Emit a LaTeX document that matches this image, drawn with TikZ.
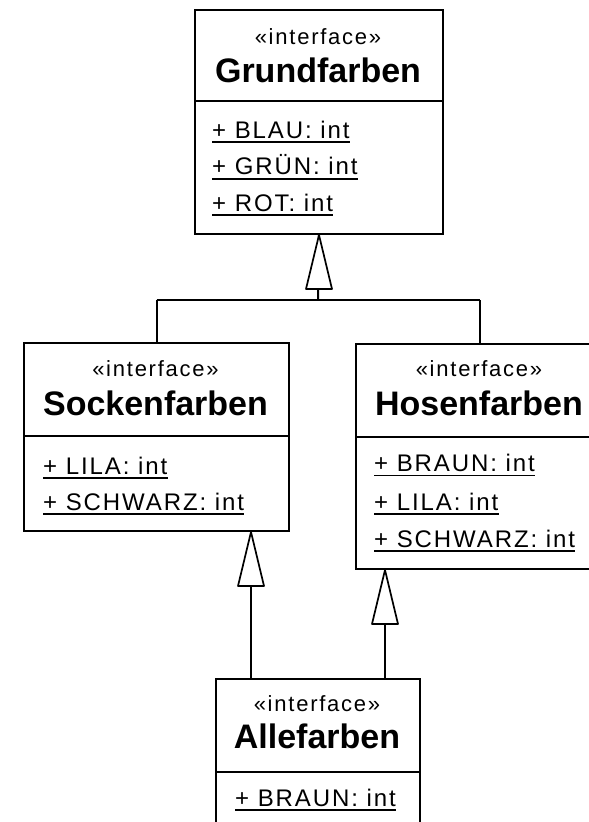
\documentclass[tikz,border=0pt]{standalone}
\usepackage{fontspec}
\setmainfont{Liberation Sans}
\newfontfamily\spacedfont[LetterSpace=8]{Liberation Sans}

\tikzset{
  x=1pt, y=-1pt,
  clsbox/.style={draw=black, line width=2pt, inner sep=0pt, anchor=north west},
  stereo/.style={inner sep=0pt, anchor=base, font=\spacedfont\fontsize{22}{26}\selectfont},
  title/.style={inner sep=0pt, anchor=base, font=\bfseries\fontsize{34}{40}\selectfont},
  attr/.style={inner sep=0pt, anchor=base west, font=\spacedfont\fontsize{24}{28}\selectfont},
  rule/.style={line width=2pt},
  uline/.style={line width=1.8pt},
  conn/.style={line width=2pt},
  hollow/.style={draw=black, fill=white, line width=1.7pt, line join=round},
}

% underline below a named attribute node
\newcommand{\ulattr}[1]{\draw[uline] ([yshift=-3.8pt]#1.base west) -- ([yshift=-3.8pt]#1.base east);}
% open generalization triangle with its tip at a given point
\newcommand{\gentip}[1]{\draw[hollow] (#1) -- ++(-13,54) -- ++(26,0) -- cycle;}

\begin{document}
\begin{tikzpicture}
\useasboundingbox (0,0) rectangle (589,822);
\fill[white] (0,0) rectangle (589,822);

% ---------- Grundfarben ----------
\node[clsbox, minimum width=248pt, minimum height=224pt] (g) at (194,9) {};
\node[stereo] (gs) at (318,44) {«interface»};
\node[title] (gt) at (318,82) {Grundfarben};
\draw[rule] (g.west |- 0,101) -- (g.east |- 0,101);
\node[attr] (g1) at (212,138.2) {+ BLAU: int};
\node[attr] (g2) at (212,174.8) {+ GRÜN: int};
\node[attr] (g3) at (212,211.5) {+ ROT: int};
\ulattr{g1}\ulattr{g2}\ulattr{g3}

% ---------- Sockenfarben ----------
\node[clsbox, minimum width=265pt, minimum height=188pt] (s) at (23,342) {};
\node[stereo] (ss) at (155.5,376) {«interface»};
\node[title] (st) at (155.5,415) {Sockenfarben};
\draw[rule] (s.west |- 0,436) -- (s.east |- 0,436);
\node[attr] (s1) at (43,474) {+ LILA: int};
\node[attr] (s2) at (43,510.5) {+ SCHWARZ: int};
\ulattr{s1}\ulattr{s2}

% ---------- Hosenfarben ----------
\node[clsbox, minimum width=248pt, minimum height=225pt] (h) at (355,343) {};
\node[stereo] (hs) at (479,376.7) {«interface»};
\node[title] (ht) at (479,415) {Hosenfarben};
\draw[rule] (h.west |- 0,437) -- (h.east |- 0,437);
\node[attr] (h1) at (374,471.7) {+ BRAUN: int};
\node[attr] (h2) at (374,510) {+ LILA: int};
\node[attr] (h3) at (374,547) {+ SCHWARZ: int};
\ulattr{h1}\ulattr{h2}\ulattr{h3}

% ---------- Allefarben ----------
\node[clsbox, minimum width=204pt, minimum height=170pt] (a) at (215,678) {};
\node[stereo] (as) at (317,711.7) {«interface»};
\node[title] (at) at (317,748) {Allefarben};
\draw[rule] (a.west |- 0,772) -- (a.east |- 0,772);
\node[attr] (a1) at (235,806.5) {+ BRAUN: int};
\ulattr{a1}

% ---------- generalizations ----------
\coordinate (join) at (318,300);
\draw[conn] (s.north |- join) -- (h.north |- join);
\draw[conn] (s.north |- join) -- (s.north);
\draw[conn] (h.north |- join) -- (h.north);
\draw[conn] (join) -- (g.south);
\gentip{g.south}

\coordinate (as1) at (251,678);
\coordinate (ah1) at (385,678);
\draw[conn] (as1) -- (as1 |- s.south);
\gentip{as1 |- s.south}
\draw[conn] (ah1) -- (ah1 |- h.south);
\gentip{ah1 |- h.south}
\end{tikzpicture}
\end{document}
